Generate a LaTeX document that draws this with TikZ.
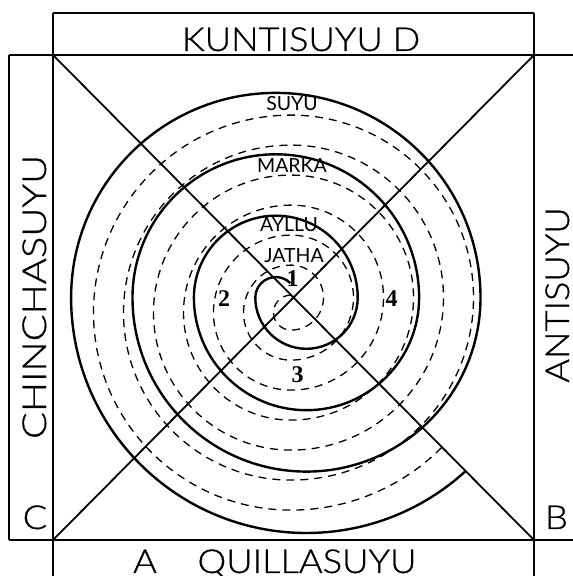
\documentclass[tikz,border=0pt]{standalone}
\usepackage{fontspec}
\setmainfont{Lato}
\IfFontExistsTF{Lato Light}
  {\newfontfamily\bigfont[FakeStretch=1.1,FakeBold=0.8]{Lato Light}}
  {\newfontfamily\bigfont[FakeStretch=1.1]{Lato}}
\newfontfamily\numfont{Liberation Serif}
\begin{document}
\begin{tikzpicture}[x=1pt,y=1pt,
  frame/.style={line width=2pt},
  diag/.style={line width=1.8pt},
  spiralline/.style={line width=2.4pt},
  dashline/.style={line width=1.3pt, dash pattern=on 8pt off 6pt},
  big/.style={font=\bigfont\fontsize{33}{33}\selectfont, inner sep=0pt, anchor=base},
  ring/.style={font=\fontsize{19.5}{19.5}\selectfont, inner sep=0pt, anchor=base},
  num/.style={font=\numfont\bfseries\fontsize{24}{24}\selectfont, inner sep=0pt, anchor=base}]
\useasboundingbox (0,0) rectangle (573,576);
% frame
\coordinate (TL) at (53,521);
\coordinate (TR) at (534,521);
\coordinate (BL) at (53,36);
\coordinate (BR) at (534,36);
\draw[frame] (9,521) -- (573,521);
\draw[frame] (9,36) -- (573,36);
\draw[frame] (53,563) -- (53,0);
\draw[frame] (534,563) -- (534,0);
\draw[frame] (53,563) -- (534,563);
\draw[frame] (9,521) -- (9,36);
\draw[diag] (TL) -- (BR);
\draw[diag] (TR) -- (BL);
% solid spiral
\draw[spiralline] (290.3,292.9) arc[start angle=45,end angle=180,radius=20.5]
  arc[start angle=180,end angle=360,radius=51.2]
  arc[start angle=0,end angle=180,radius=81.9]
  arc[start angle=180,end angle=360,radius=112.6]
  arc[start angle=0,end angle=180,radius=143.3]
  arc[start angle=180,end angle=360,radius=174.0]
  arc[start angle=0,end angle=180,radius=204.7]
  arc[start angle=180,end angle=312.6,radius=235.4];
% dashed spiral
\draw[dashline] (291,280.9) arc[start angle=90,end angle=270,radius=17.5]
  arc[start angle=270,end angle=450,radius=32.5]
  arc[start angle=90,end angle=270,radius=47.5]
  arc[start angle=270,end angle=450,radius=62.5]
  arc[start angle=90,end angle=270,radius=77.5]
  arc[start angle=270,end angle=450,radius=92.5]
  arc[start angle=90,end angle=270,radius=107.5]
  arc[start angle=270,end angle=450,radius=122.5]
  arc[start angle=90,end angle=270,radius=137.5]
  arc[start angle=270,end angle=450,radius=152.5]
  arc[start angle=90,end angle=270,radius=167.5]
  arc[start angle=270,end angle=450,radius=182.5]
  arc[start angle=90,end angle=270,radius=197.5]
  arc[start angle=270,end angle=315,radius=212.5];
% labels
\node[big] (kunti) at (301,525) {KUNTISUYU D};
\node[big] (quilla) at (307,3) {QUILLASUYU};
\node[big] (la) at (145,3) {A};
\node[big] (lc) at (35,47) {C};
\node[big] (lb) at (556.5,47) {B};
\node[big, rotate=90] (chin) at (46,279) {\scalebox{1.1}[1]{CHINCHASUYU}};
\node[big, rotate=90] (anti) at (569,281) {ANTISUYU};
\node[ring] (suyu) at (292,465) {SUYU};
\node[ring] (marka) at (292,403) {MARKA};
\node[ring] (ayllu) at (289,344) {AYLLU};
\node[ring] (jatha) at (294,313) {JATHA};
\node[num] (n1) at (292.5,289) {1};
\node[num] (n2) at (224,269) {2};
\node[num] (n3) at (297.5,193) {3};
\node[num] (n4) at (391.5,269) {4};
\end{tikzpicture}
\end{document}
